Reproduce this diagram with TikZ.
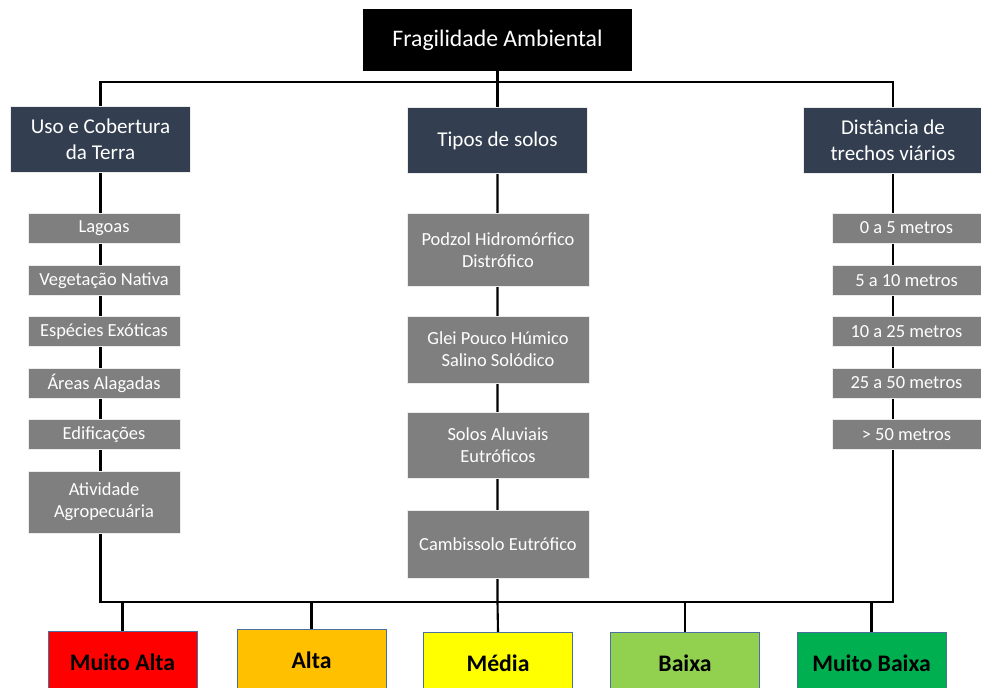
\documentclass[tikz,border=0pt]{standalone}
\usepackage{fontspec}
\setmainfont{Carlito}
\usetikzlibrary{backgrounds}
\definecolor{slate}{HTML}{333F50}
\definecolor{itemgray}{HTML}{7F7F7F}
\definecolor{lvlborder}{HTML}{4A6FA0}
\definecolor{lvlred}{HTML}{FF0000}
\definecolor{lvlorange}{HTML}{FFC000}
\definecolor{lvlyellow}{HTML}{FFFF00}
\definecolor{lvllime}{HTML}{92D050}
\definecolor{lvlgreen}{HTML}{00B050}

\begin{document}
\begin{tikzpicture}[
    x=0.02cm, y=-0.02cm,
    rootbox/.style={fill=black, text=white, minimum width=5.38cm, minimum height=1.24cm, align=center, font=\fontsize{13.5}{15}\selectfont},
    catbox/.style={fill=slate, draw=white!85!gray, text=white, minimum width=3.6cm, minimum height=1.32cm, align=center, font=\fontsize{12}{15}\selectfont},
    itembox/.style={fill=itemgray, draw=white!85!gray, text=white, minimum width=#1, align=center, font=\fontsize{10.5}{12.5}\selectfont, inner sep=1pt},
    levelbox/.style={fill=#1, draw=lvlborder, minimum width=2.98cm, minimum height=1.24cm, font=\fontsize{13.5}{15}\selectfont\bfseries},
    link/.style={line width=1.2pt, color=black}
]
\useasboundingbox (0,0) rectangle (981,688);

\node[rootbox] (frag) at (497.5, 40) {Fragilidade Ambiental};

\node[catbox] (uso) at (100.5, 139) {Uso e Cobertura\\da Terra};
\node[catbox] (tipos) at (497.5, 140.5) {Tipos de solos};
\node[catbox] (dist) at (893, 140.5) {Distância de\\trechos viários};

% uso e cobertura
\node[itembox=3.04cm, minimum height=0.6cm] (lagoas) at (104, 228) {Lagoas};
\node[itembox=3.04cm, minimum height=0.6cm] (veg) at (104, 280.5) {Vegetação Nativa};
\node[itembox=3.04cm, minimum height=0.6cm] (exot) at (104, 331.5) {Espécies Exóticas};
\node[itembox=3.04cm, minimum height=0.6cm] (alag) at (104, 383) {Áreas Alagadas};
\node[itembox=3.04cm, minimum height=0.6cm] (edif) at (104, 434.5) {Edificações};
\node[itembox=3.04cm, minimum height=1.24cm] (agro) at (104, 502) {Atividade\\Agropecuária};

% tipos de solos
\node[itembox=3.64cm, minimum height=1.46cm] (podzol) at (498, 250) {Podzol Hidromórfico\\Distrófico};
\node[itembox=3.64cm, minimum height=1.34cm] (glei) at (498, 349.5) {Glei Pouco Húmico\\Salino Solódico};
\node[itembox=3.64cm, minimum height=1.32cm] (aluv) at (498, 445) {Solos Aluviais\\Eutróficos};
\node[itembox=3.64cm, minimum height=1.36cm] (camb) at (498, 544) {Cambissolo Eutrófico};

% distancia
\node[itembox=2.98cm, minimum height=0.6cm] (d0) at (906.5, 228) {0 a 5 metros};
\node[itembox=2.98cm, minimum height=0.6cm] (d5) at (906.5, 280.5) {5 a 10 metros};
\node[itembox=2.98cm, minimum height=0.6cm] (d10) at (906.5, 331.5) {10 a 25 metros};
\node[itembox=2.98cm, minimum height=0.6cm] (d25) at (906.5, 383) {25 a 50 metros};
\node[itembox=2.98cm, minimum height=0.6cm] (d50) at (906.5, 434.5) {> 50 metros};

% classes
\node[levelbox=lvlred, anchor=north] (muitoalta) at (122.5, 631) {Muito Alta};
\node[levelbox=lvlorange, anchor=north] (alta) at (311.5, 629) {Alta};
\node[levelbox=lvlyellow, anchor=north] (media) at (498, 632) {Média};
\node[levelbox=lvllime, anchor=north] (baixa) at (685, 632) {Baixa};
\node[levelbox=lvlgreen, anchor=north] (muitobaixa) at (871.5, 632) {Muito Baixa};

\coordinate (topbar) at (497.5, 82);
\coordinate (basebar) at (497.5, 602);

\begin{scope}[on background layer]
\draw[link] (frag.south) -- (topbar);
\draw[link] (uso.north) |- (topbar) -| (dist.north);
\draw[link] (topbar) -- (tipos.north);
\draw[link] (uso.south) |- (basebar) -| (dist.south);
\draw[link] (tipos.south) -- (basebar) -- (media.north);
\draw[link] (muitoalta.north) -- (muitoalta.north |- basebar);
\draw[link] (alta.north) -- (alta.north |- basebar);
\draw[link] (baixa.north) -- (baixa.north |- basebar);
\draw[link] (muitobaixa.north) -- (muitobaixa.north |- basebar);
\end{scope}
\end{tikzpicture}
\end{document}
